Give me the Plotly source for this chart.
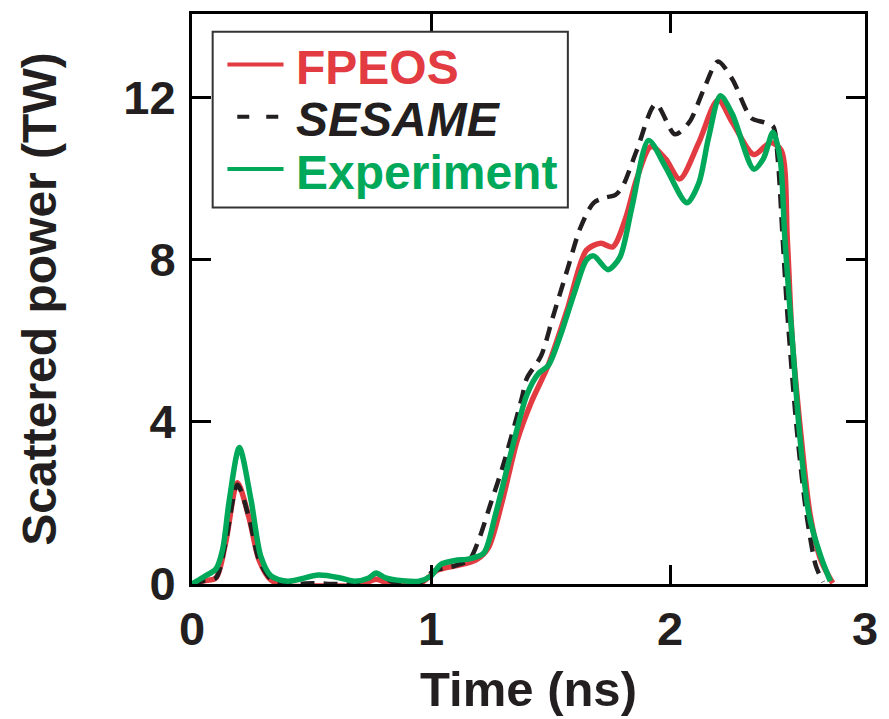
import plotly.graph_objects as go

# Scattered power vs. time (ns) for two EOS models and the measurement
fpeos_t = [0, 0.05, 0.10, 0.14, 0.19, 0.24, 0.28, 0.33, 0.40, 0.50, 0.60, 0.70, 0.77, 0.84,
           0.95, 1.03, 1.12, 1.19, 1.24, 1.30, 1.36, 1.42, 1.49, 1.57, 1.65, 1.71, 1.76,
           1.815, 1.86, 1.92, 1.98, 2.04, 2.12, 2.20, 2.26, 2.35, 2.42, 2.465, 2.49, 2.51,
           2.545, 2.585, 2.63, 2.68]
fpeos_p = [0, 0.08, 0.15, 1.0, 2.5, 1.6, 0.6, 0.1, -0.05, -0.05, -0.05, -0.04, 0.12, -0.03,
           0.0, 0.35, 0.47, 0.6, 0.9, 2.1, 3.54, 4.5, 5.4, 6.78, 8.24, 8.41, 8.32,
           9.05, 10.0, 10.8, 10.5, 10.0, 10.9, 11.95, 11.4, 10.6, 10.9, 10.7, 8.5, 6.1,
           3.8, 1.73, 0.6, 0.02]

sesame_t = [0, 0.05, 0.10, 0.14, 0.19, 0.24, 0.28, 0.33, 0.40, 0.50, 0.60, 0.70, 0.77, 0.84,
            0.95, 1.01, 1.10, 1.16, 1.20, 1.25, 1.30, 1.38, 1.40, 1.46, 1.51, 1.57, 1.625,
            1.68, 1.73, 1.77, 1.80, 1.86, 1.94, 2.02, 2.08, 2.14, 2.20, 2.26, 2.34, 2.39,
            2.43, 2.45, 2.47, 2.49, 2.53, 2.57, 2.61, 2.64]
sesame_p = [0, 0.08, 0.15, 1.0, 2.45, 1.6, 0.6, 0.12, 0.0, 0.02, 0.0, 0.0, 0.25, 0.05,
            0.02, 0.32, 0.45, 0.6, 1.1, 2.0, 2.9, 4.6, 5.07, 5.63, 6.6, 7.76, 8.8,
            9.41, 9.54, 9.6, 9.8, 10.7, 11.85, 11.1, 11.4, 12.2, 12.9, 12.46, 11.5, 11.4,
            11.3, 10.5, 8.6, 6.7, 3.8, 1.73, 0.44, 0.05]

exp_t = [0, 0.05, 0.10, 0.128, 0.156, 0.198, 0.247, 0.288, 0.33, 0.40, 0.53, 0.62, 0.68,
         0.74, 0.77, 0.81, 0.88, 0.95, 1.0, 1.04, 1.10, 1.16, 1.22, 1.27, 1.34, 1.40,
         1.45, 1.49, 1.54, 1.60, 1.65, 1.68, 1.74, 1.79, 1.84, 1.91, 1.98, 2.07, 2.12,
         2.16, 2.21, 2.26, 2.35, 2.39, 2.43, 2.46, 2.48, 2.51, 2.54, 2.58, 2.63, 2.67]
exp_p = [0, 0.18, 0.37, 0.85, 2.07, 3.37, 2.07, 0.68, 0.2, 0.07, 0.22, 0.15, 0.07,
         0.15, 0.27, 0.15, 0.08, 0.07, 0.2, 0.48, 0.58, 0.62, 0.76, 1.73, 3.37, 4.66,
         5.2, 5.39, 6.12, 7.2, 8.0, 8.1, 7.76, 8.07, 9.3, 10.95, 10.3, 9.41, 9.9,
         11.0, 12.05, 11.6, 10.24, 10.5, 11.15, 10.5, 8.5, 6.1, 3.8, 1.73, 0.68, 0.07]

x_ticks = [0, 1, 2, 2.815]
x_tick_text = ["0", "1", "2", "3"]
y_ticks = [0, 4, 8, 12]

series_names = ["FPEOS", "<i>SESAME</i>", "Experiment"]

RED = "#e23b41"
BLACK = "#231f20"
GREEN = "#00a85a"
FONT = "Liberation Sans, Arial, Helvetica, sans-serif"

W, H = 889, 719
ML, MR, MT, MB = 192, 13, 11, 131
PW, PH = W - ML - MR, H - MT - MB


def px_x(p):
    """Pixel column -> paper x."""
    return (p - ML) / PW


def px_y(p):
    """Pixel row (from top) -> paper y."""
    return (H - MB - p) / PH


styles = [
    dict(color=RED, width=5.5),
    dict(color=BLACK, width=4.5, dash="14px,9px"),
    dict(color=GREEN, width=5.5),
]

fig = go.Figure()
for t, p, name, st in zip([fpeos_t, sesame_t, exp_t], [fpeos_p, sesame_p, exp_p],
                          ["FPEOS", "SESAME", "Experiment"], styles):
    fig.add_trace(go.Scatter(
        x=t, y=p, mode="lines", name=name, showlegend=False,
        line=dict(shape="spline", smoothing=0.8, **st)))

axis_common = dict(
    showline=True, linecolor="black", linewidth=3, mirror="ticks",
    ticks="inside", ticklen=19, tickwidth=3, tickcolor="black",
    showgrid=False, zeroline=False,
    tickfont=dict(family=FONT, size=47, color=BLACK, weight="bold"),
)

# Legend box drawn in paper space
shapes = [dict(type="rect", xref="paper", yref="paper",
               x0=px_x(213), x1=px_x(574), y0=px_y(207), y1=px_y(29),
               line=dict(color="#333333", width=2), fillcolor="white", layer="above")]
annotations = []
rows = [62, 115, 168]
legend_line = [
    dict(color=RED, width=4),
    dict(color=BLACK, width=4, dash="12px,17px"),
    dict(color=GREEN, width=4),
]
text_colors = [RED, BLACK, GREEN]
for row, ln, name, tc in zip(rows, legend_line, series_names, text_colors):
    x0 = 228 if ln.get("dash") is None else 238
    shapes.append(dict(type="line", xref="paper", yref="paper",
                       x0=px_x(x0), x1=px_x(285), y0=px_y(row), y1=px_y(row),
                       line=ln, layer="above"))
    annotations.append(dict(
        xref="paper", yref="paper", x=px_x(296), y=px_y(row + 3),
        xanchor="left", yanchor="middle", showarrow=False, text=name,
        font=dict(family=FONT, size=48, color=tc, weight="bold")))

fig.update_layout(
    width=W, height=H,
    margin=dict(l=ML, r=MR, t=MT, b=MB),
    paper_bgcolor="white", plot_bgcolor="white",
    font=dict(family=FONT, color=BLACK),
    showlegend=False,
    xaxis=dict(range=[0, 2.815], tickvals=x_ticks, ticktext=x_tick_text,
               title=dict(text="Time (ns)", standoff=18,
                          font=dict(family=FONT, size=49, color=BLACK, weight="bold")),
               ticklabelstandoff=2, **axis_common),
    yaxis=dict(range=[0, 14.07], tickvals=y_ticks,
               title=dict(text="Scattered power (TW)", standoff=52,
                          font=dict(family=FONT, size=48, color=BLACK, weight="bold")),
               ticklabelstandoff=4, **axis_common),
    shapes=shapes,
    annotations=annotations,
)

fig.write_html("out.html")
